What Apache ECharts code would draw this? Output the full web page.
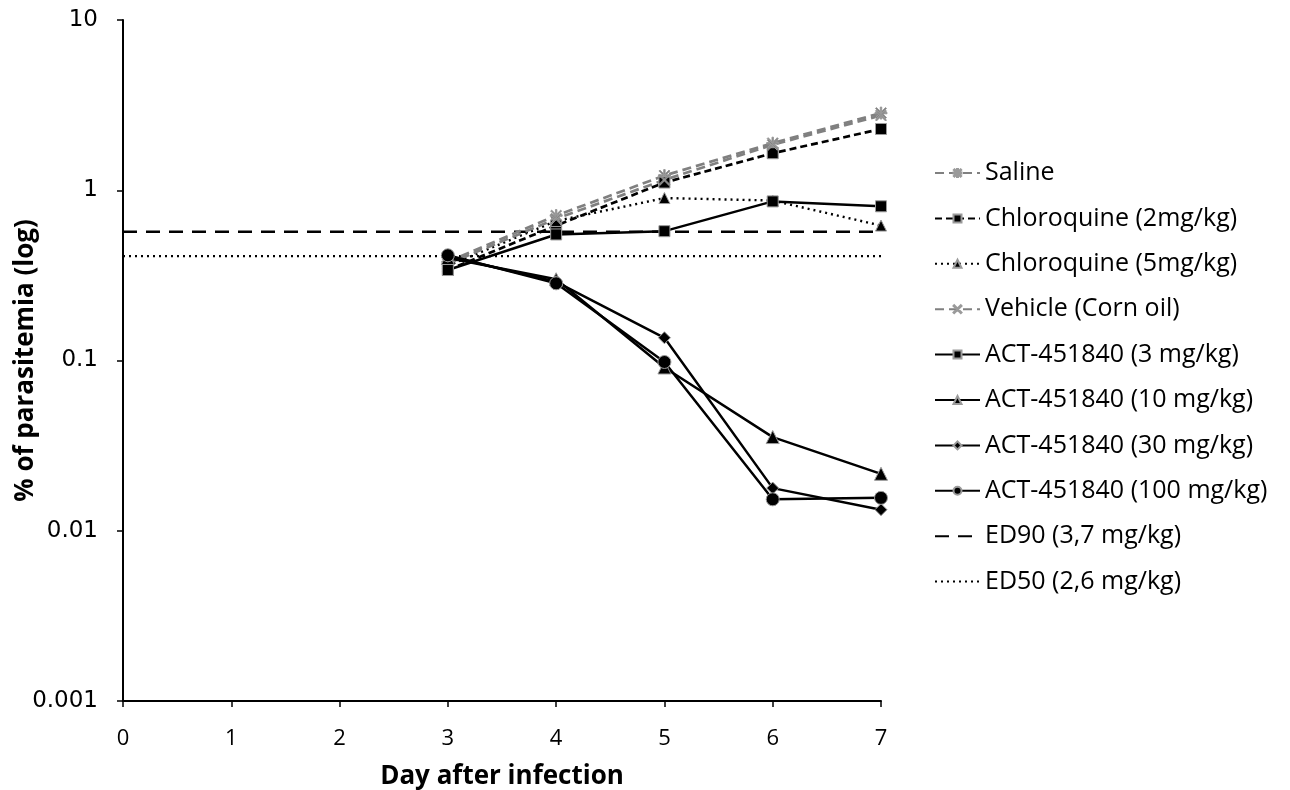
<!DOCTYPE html>
<html><head><meta charset="utf-8">
<script src="https://cdn.jsdelivr.net/npm/echarts@6/dist/echarts.min.js"></script>
<style>html,body{margin:0;padding:0;background:#fff}#c{width:1290px;height:790px}</style>
</head><body><div id="c"></div>
<script>
const days = [3, 4, 5, 6, 7];
const saline = [0.38, 0.71, 1.22, 1.89, 2.84];
const chloro2 = [0.34, 0.62, 1.11, 1.65, 2.29];
const chloro5 = [0.36, 0.66, 0.90, 0.87, 0.62];
const vehicle = [0.37, 0.68, 1.15, 1.85, 2.75];
const act3 = [0.34, 0.55, 0.575, 0.86, 0.805];
const act10 = [0.40, 0.30, 0.091, 0.0355, 0.0216];
const act30 = [0.41, 0.29, 0.136, 0.0178, 0.0133];
const act100 = [0.415, 0.284, 0.098, 0.0153, 0.0156];
const ed90 = 0.57;
const ed50 = 0.41;
const xRange = [0, 7];
const yTicks = [0.001, 0.01, 0.1, 1, 10];

const asterisk = 'path://M4.4,0 L5.6,0 L5.6,10 L4.4,10 Z M0,4.4 L10,4.4 L10,5.6 L0,5.6 Z M1.2,0.4 L9.6,8.8 L8.8,9.6 L0.4,1.2 Z M8.8,0.4 L9.6,1.2 L1.2,9.6 L0.4,8.8 Z';
const xmark = 'path://M1.2,0.4 L9.6,8.8 L8.8,9.6 L0.4,1.2 Z M8.8,0.4 L9.6,1.2 L1.2,9.6 L0.4,8.8 Z';

function pts(vals){ return days.map((d,i)=>[d, vals[i]]); }
function mk(name, vals, color, type, width, symbol, size){
  return {
    name, type:'line', data: pts(vals), symbol, symbolSize: size,
    lineStyle:{color, type, width},
    itemStyle:{color: (color==='#808080'?'#808080':'#000'), borderColor:'#9a9a9a', borderWidth:1},
    emphasis:{disabled:true}, animation:false
  };
}
function hline(name, v, type){
  return {
    name, type:'line', data:[[xRange[0], v],[xRange[1], v]], symbol:'none',
    lineStyle:{color:'#000', type, width:2.4}, itemStyle:{color:'#000'},
    emphasis:{disabled:true}, animation:false, z:1
  };
}

const series = [
  mk('Saline', saline, '#808080', [9,5], 2.7, asterisk, 12),
  mk('Chloroquine (2mg/kg)', chloro2, '#000', [7,4], 2.7, 'rect', 11),
  mk('Chloroquine (5mg/kg)', chloro5, '#000', [2,4], 2.4, 'triangle', 11),
  mk('Vehicle (Corn oil)', vehicle, '#808080', [9,5], 2.7, xmark, 11),
  mk('ACT-451840 (3 mg/kg)', act3, '#000', 'solid', 2.5, 'rect', 11),
  mk('ACT-451840 (10 mg/kg)', act10, '#000', 'solid', 2.5, 'triangle', 13),
  mk('ACT-451840 (30 mg/kg)', act30, '#000', 'solid', 2.5, 'diamond', 12),
  mk('ACT-451840 (100 mg/kg)', act100, '#000', 'solid', 2.5, 'circle', 13),
  hline('ED90 (3,7 mg/kg)', ed90, [14,9]),
  hline('ED50 (2,6 mg/kg)', ed50, [2,4])
];

const legendData = series.map(s => s.symbol === 'none'
  ? {name: s.name, itemStyle:{color:'rgba(0,0,0,0)', borderColor:'rgba(0,0,0,0)', borderWidth:0}}
  : {name: s.name});

const chart = echarts.init(document.getElementById('c'), null, {renderer:'canvas'});
chart.setOption({
  backgroundColor:'#fff',
  animation:false,
  grid:{left:123, right:409, top:20, bottom:89, containLabel:false, outerBoundsMode:'none'},
  xAxis:{
    type:'value', min:xRange[0], max:xRange[1], interval:1,
    name:'Day after infection', nameLocation:'middle', nameGap:63, nameMoveOverlap:false,
    nameTextStyle:{fontFamily:'Open Sans', fontWeight:'bold', fontSize:26, color:'#000'},
    axisLine:{lineStyle:{color:'#000', width:2}},
    axisTick:{show:true, inside:false, length:6, lineStyle:{color:'#000', width:1.5}},
    axisLabel:{fontFamily:'Open Sans', fontSize:22, color:'#000', margin:27},
    splitLine:{show:false}
  },
  yAxis:{
    type:'log', logBase:10, min:yTicks[0], max:yTicks[yTicks.length-1],
    name:'% of parasitemia (log)', nameLocation:'middle', nameGap:84, nameRotate:90, nameMoveOverlap:false,
    nameTextStyle:{fontFamily:'Open Sans', fontWeight:'bold', fontSize:26, color:'#000'},
    axisLine:{show:true, lineStyle:{color:'#000', width:2}},
    axisTick:{show:true, inside:false, length:6, lineStyle:{color:'#000', width:1.5}},
    axisLabel:{fontFamily:'DejaVu Sans', fontSize:23, color:'#000', margin:25,
      formatter:function(v){ const t = yTicks.find(x=>Math.abs(Math.log10(x)-Math.log10(v))<1e-6); return t!==undefined ? String(t) : ''; }},
    splitLine:{show:false}
  },
  legend:{
    orient:'vertical', left:934, top:160.5, padding:0, itemGap:20.4, itemWidth:45, itemHeight:10,
    textStyle:{fontFamily:'Open Sans', fontSize:25, color:'#000'},
    selectedMode:false,
    data: legendData
  },
  series
});
</script></body></html>
